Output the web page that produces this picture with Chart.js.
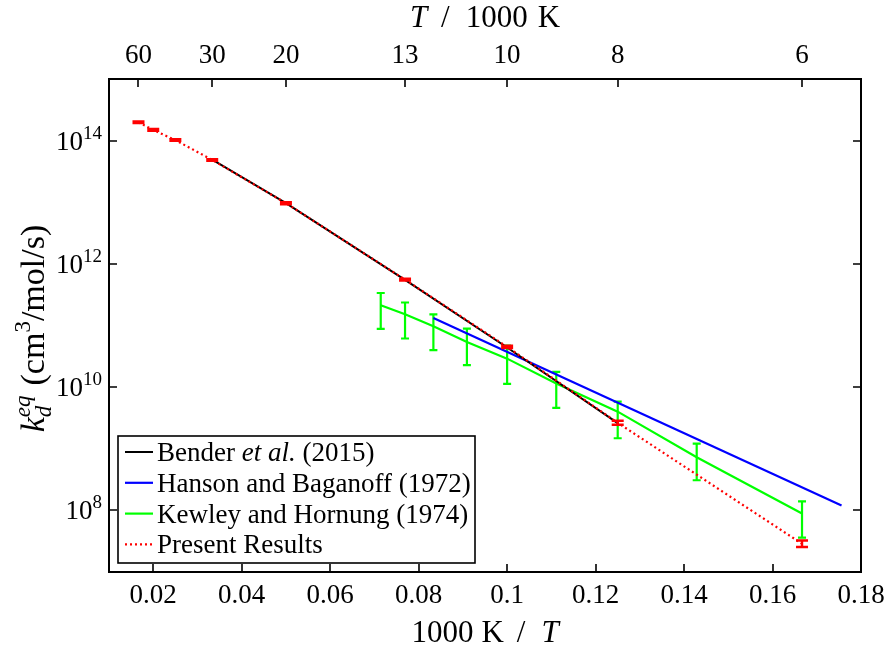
<!DOCTYPE html>
<html>
<head>
<meta charset="utf-8">
<script src="https://cdn.jsdelivr.net/npm/chart.js@4/dist/chart.umd.min.js"></script>
<style>
  html, body { margin: 0; padding: 0; background: #fff; }
  canvas { display: block; }
</style>
</head>
<body>
<canvas id="c" width="889" height="651"></canvas>
<script>
// ---- axis ticks ----
const bottomTicks = [0.02, 0.04, 0.06, 0.08, 0.10, 0.12, 0.14, 0.16, 0.18];
const bottomTickLabels = ['0.02', '0.04', '0.06', '0.08', '0.1', '0.12', '0.14', '0.16', '0.18'];
const topTicks = [0.016667, 0.033333, 0.05, 0.076923, 0.10, 0.125, 0.166667];
const topTickLabels = ['60', '30', '20', '13', '10', '8', '6'];
const yTicks = [1e8, 1e10, 1e12, 1e14];
const yTickExponents = ['8', '10', '12', '14'];

// ---- Bender et al. (2015) ----
const benderX = [0.033333, 0.05, 0.076923, 0.10, 0.125];
const benderK = [4.9e13, 9.7e12, 5.5e11, 4.4e10, 2.6e9];

// ---- Hanson and Baganoff (1972) ----
const hansonX = [0.083333, 0.1756];
const hansonK = [1.32e11, 1.2e8];

// ---- Kewley and Hornung (1974) ----
const kewleyX = [0.071429, 0.076923, 0.083333, 0.090909, 0.10, 0.111111, 0.125, 0.142857, 0.166667];
const kewleyK = [2.13e11, 1.52e11, 9.7e10, 5.4e10, 2.9e10, 1.15e10, 4.0e9, 7.3e8, 8.9e7];
const kewleyHigh = [3.37e11, 2.36e11, 1.52e11, 8.9e10, 4.7e10, 1.77e10, 5.8e9, 1.21e9, 1.40e8];
const kewleyLow = [8.8e10, 6.15e10, 3.97e10, 2.27e10, 1.13e10, 4.62e9, 1.48e9, 3.08e8, 3.6e7];

// ---- Present results ----
const presentX = [0.016667, 0.02, 0.025, 0.033333, 0.05, 0.076923, 0.10, 0.125, 0.166667];
const presentK = [1.98e14, 1.49e14, 1.02e14, 4.86e13, 9.66e12, 5.55e11, 4.5e10, 2.64e9, 2.87e7];
const presentHigh = [2.04e14, 1.54e14, 1.05e14, 5.0e13, 1.0e13, 5.75e11, 4.7e10, 2.85e9, 3.24e7];
const presentLow = [1.92e14, 1.44e14, 0.99e14, 4.7e13, 9.3e12, 5.35e11, 4.3e10, 2.45e9, 2.54e7];

const SERIF = '"Liberation Serif", "Times New Roman", serif';
const toPoints = (xs, ys) => xs.map((x, i) => ({ x: x, y: ys[i] }));

// measures / draws a run of text pieces, each with its own font and vertical offset;
// a piece may be a fixed gap or a stack of pieces sharing one x position
function pieceWidth(ctx, p) {
  if (p.gap) return p.gap;
  if (p.stack) return Math.max(...p.stack.map(s => { ctx.font = s.font; return ctx.measureText(s.text).width; }));
  ctx.font = p.font;
  return ctx.measureText(p.text).width;
}
function drawRich(ctx, parts, x, y, align) {
  const total = parts.reduce((w, p) => w + pieceWidth(ctx, p), 0);
  let cx = align === 'center' ? x - total / 2 : align === 'right' ? x - total : x;
  ctx.textAlign = 'left';
  ctx.textBaseline = 'alphabetic';
  for (const p of parts) {
    const w = pieceWidth(ctx, p);
    if (p.stack) {
      for (const s of p.stack) { ctx.font = s.font; ctx.fillText(s.text, cx, y + (s.dy || 0)); }
    } else if (!p.gap) {
      ctx.font = p.font;
      ctx.fillText(p.text, cx, y + (p.dy || 0));
    }
    cx += w;
  }
}

// error bars for datasets that carry errLow/errHigh
const errorBars = {
  id: 'errorBars',
  afterDatasetDraw(chart, args) {
    const ds = chart.data.datasets[args.index];
    if (!ds.errLow) return;
    const ctx = chart.ctx, xs = chart.scales.x, ys = chart.scales.y;
    ctx.save();
    ctx.strokeStyle = ds.borderColor;
    ctx.lineWidth = ds.errWidth;
    ctx.setLineDash([]);
    ds.data.forEach((p, i) => {
      const px = xs.getPixelForValue(p.x);
      const yl = ys.getPixelForValue(ds.errLow[i]);
      const yh = ys.getPixelForValue(ds.errHigh[i]);
      const c = ds.capHalf;
      ctx.beginPath();
      ctx.moveTo(px, yl); ctx.lineTo(px, yh);
      ctx.moveTo(px - c, yl); ctx.lineTo(px + c, yl);
      ctx.moveTo(px - c, yh); ctx.lineTo(px + c, yh);
      ctx.stroke();
    });
    ctx.restore();
  }
};

// frame, inward ticks, tick labels, axis titles and legend box
const decorations = {
  id: 'decorations',
  afterDraw(chart) {
    const ctx = chart.ctx, a = chart.chartArea, xs = chart.scales.x, ys = chart.scales.y;
    const T = 8;
    ctx.save();
    ctx.strokeStyle = '#000';
    ctx.fillStyle = '#000';
    ctx.lineWidth = 2;
    ctx.strokeRect(a.left, a.top, a.right - a.left, a.bottom - a.top);

    ctx.lineWidth = 1.6;
    ctx.beginPath();
    bottomTicks.forEach(v => {
      const px = Math.round(xs.getPixelForValue(v));
      ctx.moveTo(px, a.bottom); ctx.lineTo(px, a.bottom - T);
    });
    topTicks.forEach(v => {
      const px = Math.round(xs.getPixelForValue(v));
      ctx.moveTo(px, a.top); ctx.lineTo(px, a.top + T);
    });
    yTicks.forEach(v => {
      const py = Math.round(ys.getPixelForValue(v));
      ctx.moveTo(a.left, py); ctx.lineTo(a.left + T, py);
      ctx.moveTo(a.right, py); ctx.lineTo(a.right - T, py);
    });
    ctx.stroke();

    const tick = '27px ' + SERIF, exp = '19px ' + SERIF;
    const title = '31px ' + SERIF, titleI = 'italic 31px ' + SERIF;
    const yt = '34px ' + SERIF, ytI = 'italic 34px ' + SERIF;
    const ytSub = 'italic 23px ' + SERIF, ytSup = '23px ' + SERIF;
    ctx.textAlign = 'center';
    ctx.textBaseline = 'alphabetic';
    ctx.font = tick;
    bottomTicks.forEach((v, i) => ctx.fillText(bottomTickLabels[i], xs.getPixelForValue(v), 603));
    topTicks.forEach((v, i) => ctx.fillText(topTickLabels[i], xs.getPixelForValue(v), 63));

    yTicks.forEach((v, i) => {
      const py = ys.getPixelForValue(v);
      drawRich(ctx, [
        { text: '10', font: tick },
        { text: yTickExponents[i], font: exp, dy: -11 }
      ], 102, py + 9, 'right');
    });

    const midX = (a.left + a.right) / 2;
    drawRich(ctx, [
      { text: 'T', font: titleI }, { gap: 14 },
      { text: '/', font: title }, { gap: 16 },
      { text: '1000', font: title }, { gap: 10 },
      { text: 'K', font: title }
    ], midX, 27, 'center');
    drawRich(ctx, [
      { text: '1000', font: title }, { gap: 8 },
      { text: 'K', font: title }, { gap: 13 },
      { text: '/', font: title }, { gap: 16 },
      { text: 'T', font: titleI }
    ], midX, 642, 'center');

    ctx.save();
    ctx.translate(44, (a.top + a.bottom) / 2 + 3);
    ctx.rotate(-Math.PI / 2);
    drawRich(ctx, [
      { text: 'k', font: ytI },
      { stack: [{ text: 'd', font: ytSub, dy: 7 }, { text: 'eq', font: ytSub, dy: -14 }] },
      { gap: 10 },
      { text: '(cm', font: yt },
      { text: '3', font: ytSup, dy: -14 },
      { text: '/mol/s)', font: yt }
    ], 0, 0, 'center');
    ctx.restore();

    // legend
    const lx = 118, ly = 436, lw = 357, lh = 127;
    const lf = '27px ' + SERIF, lfi = 'italic 27px ' + SERIF;
    ctx.fillStyle = '#fff';
    ctx.fillRect(lx, ly, lw, lh);
    ctx.lineWidth = 1.6;
    ctx.strokeStyle = '#000';
    ctx.strokeRect(lx, ly, lw, lh);
    const legendRows = [
      { ds: 1, parts: [{ text: 'Bender ', font: lf }, { text: 'et al.', font: lfi }, { text: ' (2015)', font: lf }] },
      { ds: 2, parts: [{ text: 'Hanson and Baganoff (1972)', font: lf }] },
      { ds: 3, parts: [{ text: 'Kewley and Hornung (1974)', font: lf }] },
      { ds: 0, parts: [{ text: 'Present Results', font: lf }] }
    ];
    legendRows.forEach((row, i) => {
      const d = chart.data.datasets[row.ds];
      const y = 452 + i * 30.8;
      ctx.strokeStyle = d.borderColor;
      ctx.lineWidth = d.borderWidth;
      ctx.setLineDash(d.borderDash || []);
      ctx.beginPath();
      ctx.moveTo(125, y); ctx.lineTo(153, y);
      ctx.stroke();
      ctx.setLineDash([]);
      ctx.fillStyle = '#000';
      drawRich(ctx, row.parts, 157, y + 9, 'left');
    });
    ctx.restore();
  }
};

new Chart(document.getElementById('c'), {
  type: 'line',
  data: {
    datasets: [
      {
        label: 'Present Results',
        data: toPoints(presentX, presentK),
        borderColor: '#ff0000',
        borderWidth: 2.2,
        borderDash: [2, 3],
        pointRadius: 0,
        order: 0,
        errLow: presentLow,
        errHigh: presentHigh,
        errWidth: 2.4,
        capHalf: 6
      },
      {
        label: 'Bender et al. (2015)',
        data: toPoints(benderX, benderK),
        borderColor: '#000000',
        borderWidth: 2,
        pointRadius: 0,
        order: 1
      },
      {
        label: 'Hanson and Baganoff (1972)',
        data: toPoints(hansonX, hansonK),
        borderColor: '#0000ff',
        borderWidth: 2.2,
        pointRadius: 0,
        order: 2
      },
      {
        label: 'Kewley and Hornung (1974)',
        data: toPoints(kewleyX, kewleyK),
        borderColor: '#00ff00',
        borderWidth: 2.2,
        pointRadius: 0,
        order: 3,
        errLow: kewleyLow,
        errHigh: kewleyHigh,
        errWidth: 2.2,
        capHalf: 4
      }
    ]
  },
  options: {
    responsive: false,
    animation: false,
    devicePixelRatio: 1,
    layout: { padding: { left: 109, right: 28, top: 79, bottom: 79 } },
    plugins: { legend: { display: false }, tooltip: { enabled: false } },
    elements: { line: { tension: 0, fill: false } },
    scales: {
      x: { type: 'linear', min: 0.01, max: 0.18, display: false },
      y: { type: 'logarithmic', min: 1e7, max: 1e15, display: false }
    }
  },
  plugins: [errorBars, decorations]
});
</script>
</body>
</html>
